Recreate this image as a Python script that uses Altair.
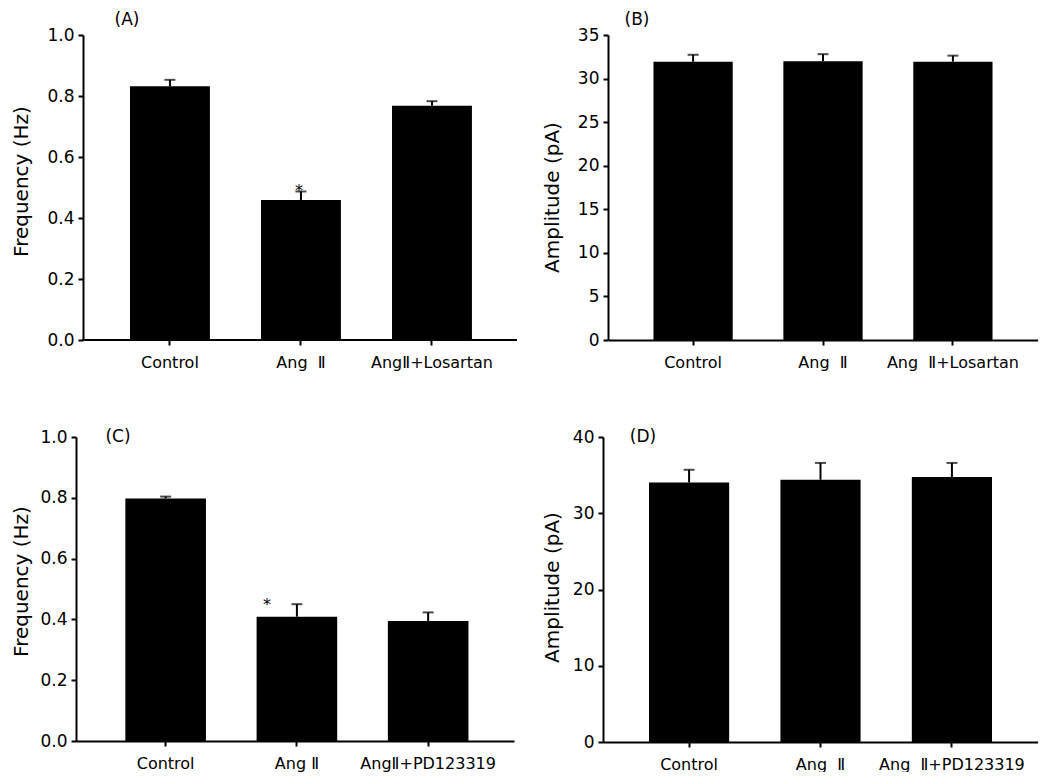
import altair as alt
import pandas as pd

# ---------------- data ----------------
cats_A = ["Control", "Ang\u00a0\u00a0Ⅱ", "AngⅡ+Losartan"]
freq_A = [0.832, 0.459, 0.768]
err_A = [0.021, 0.028, 0.015]

cats_B = ["Control", "Ang\u00a0\u00a0Ⅱ", "Ang\u00a0\u00a0Ⅱ+Losartan"]
amp_B = [31.93, 32.0, 31.93]
err_B = [0.8, 0.8, 0.7]

cats_C = ["Control", "Ang\u00a0Ⅱ", "AngⅡ+PD123319"]
freq_C = [0.798, 0.409, 0.395]
err_C = [0.006, 0.041, 0.028]

cats_D = ["Control", "Ang\u00a0\u00a0Ⅱ", "Ang\u00a0\u00a0Ⅱ+PD123319"]
amp_D = [34.04, 34.4, 34.75]
err_D = [1.66, 2.2, 1.85]

freq_ticks = [0, 0.2, 0.4, 0.6, 0.8, 1.0]
ampB_ticks = [0, 5, 10, 15, 20, 25, 30, 35]
ampD_ticks = [0, 10, 20, 30, 40]

star_A = 0.49   # significance marker level, panel A
star_C = 0.447  # significance marker level, panel C


def panel(cats, vals, errs, ytitle, domain, ticks, fmt, width, height,
          title_pad, title_xy, letter, lx, ly, star_y=None, star_dx=0,
          shift=0, pad_outer=0.35, band_align=0.5, pad_inner=0.39):
    df = pd.DataFrame({"cat": cats, "val": vals,
                       "hi": [v + e for v, e in zip(vals, errs)]})
    sc = alt.Scale(paddingInner=pad_inner, paddingOuter=pad_outer,
                   align=band_align)
    xaxis = alt.Axis(labelAngle=0, labelFontSize=16, labelPadding=9,
                     domain=(shift == 0))
    xenc = alt.X("cat:N", sort=cats, title=None, scale=sc, axis=xaxis)

    def yenc(field):
        return alt.Y(field, title=ytitle, type="quantitative",
                     scale=alt.Scale(domain=domain, nice=False, zero=True),
                     axis=alt.Axis(values=ticks, format=fmt, labelFontSize=17,
                                   labelPadding=4, titlePadding=title_pad,
                                   titleX=title_xy[0], titleY=title_xy[1],
                                   offset=-shift))

    base = alt.Chart(df)
    bars = base.mark_bar(color="black").encode(x=xenc, y=yenc("val"))
    err = base.mark_rule(color="black", strokeWidth=2).encode(
        x=xenc, y=yenc("val"), y2="hi:Q")
    cap = base.mark_tick(color="black", thickness=2, size=11,
                         orient="horizontal").encode(x=xenc, y=yenc("hi"))
    lab = alt.Chart(pd.DataFrame({"t": [letter]})).mark_text(
        font="DejaVu Sans", fontSize=17, color="black",
        align="center", baseline="middle").encode(
        text="t:N", x=alt.value(lx + shift), y=alt.value(ly))
    layers = [bars, err, cap, lab]
    if shift:
        base_line = alt.Chart(pd.DataFrame({"z": [0]})).mark_rule(
            color="black", strokeWidth=2).encode(
            y=alt.Y("z:Q", scale=alt.Scale(domain=domain, nice=False)),
            x=alt.value(shift - 1), x2=alt.value(width))
        layers.append(base_line)
    if star_y is not None:
        sdf = pd.DataFrame({"cat": [cats[1]], "sy": [star_y], "t": ["*"]})
        star = alt.Chart(sdf).mark_text(
            font="DejaVu Sans", fontSize=16, color="black",
            align="center", baseline="middle", dx=star_dx).encode(
            x=xenc, y=yenc("sy"), text="t:N")
        layers.append(star)
    return alt.layer(*layers).properties(width=width, height=height)


pA = panel(cats_A, freq_A, err_A, "Frequency (Hz)", [0, 1], freq_ticks, ".1f",
           441, 305, 16, (-52, 146), "(A)", 44, -15, star_A, -2, shift=7,
           pad_outer=0.378, band_align=0.545)
pB = panel(cats_B, amp_B, err_B, "Amplitude (pA)", [0, 35], ampB_ticks, "d",
           430, 305, 15, (-46, 162), "(B)", 29, -15)
pC = panel(cats_C, freq_C, err_C, "Frequency (Hz)", [0, 1], freq_ticks, ".1f",
           438, 304, 9, (-45, 144), "(C)", 42, 0, star_C, -30,
           pad_outer=0.3615, band_align=0.52, pad_inner=0.386)
pD = panel(cats_D, amp_D, err_D, "Amplitude (pA)", [0, 40], ampD_ticks, "d",
           435, 305, 10, (-41, 150), "(D)", 40, 0)

chart = alt.concat(pA, pB, pC, pD, columns=2, align="none",
                   spacing=alt.RowColnumber(row=58, column=24)).properties(
    padding={"left": 2, "top": 3, "right": 0, "bottom": 0},
    background="white",
).configure_view(stroke=None).configure_axis(
    grid=False,
    domainColor="black", domainWidth=2,
    tickColor="black", tickWidth=2, tickSize=5,
    labelColor="black", labelFont="DejaVu Sans",
    titleColor="black", titleFont="DejaVu Sans",
    titleFontSize=20, titleFontWeight="normal",
)

chart.save("out.html", embed_options={"renderer": "svg", "actions": False})
